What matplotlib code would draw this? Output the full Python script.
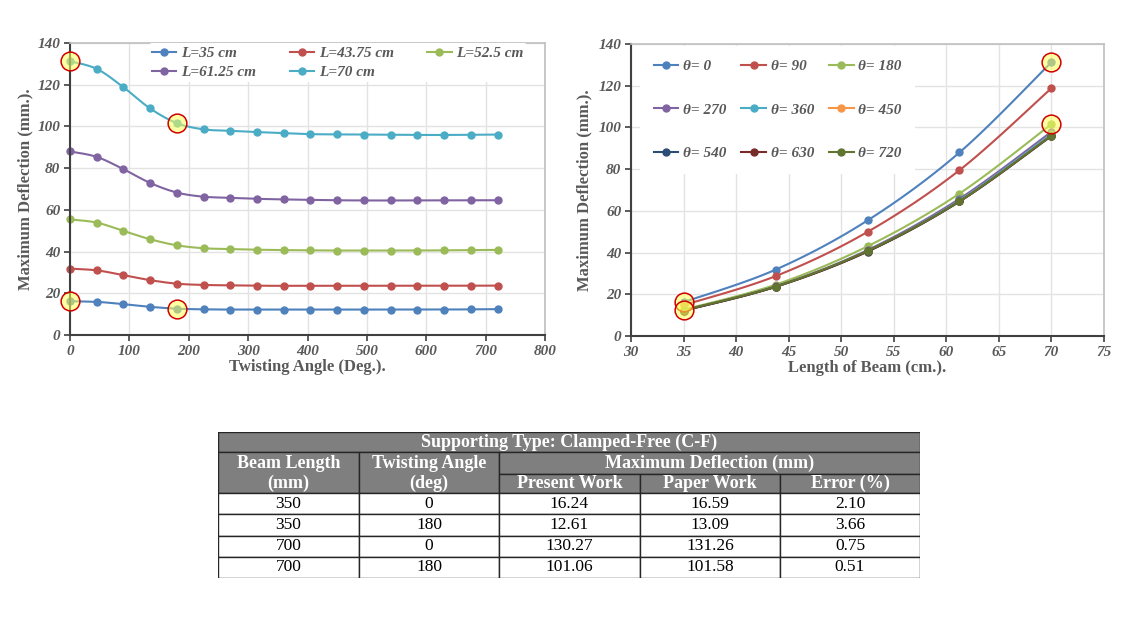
import numpy as np
import matplotlib.pyplot as plt
from matplotlib.patches import Rectangle
from matplotlib.lines import Line2D

# twisting angles (deg) and beam lengths (cm)
angles = [0, 45, 90, 135, 180, 225, 270, 315, 360, 405, 450, 495, 540, 585, 630, 675, 720]
lengths = [35, 43.75, 52.5, 61.25, 70]

# max deflection (mm) vs twisting angle, one list per beam length
defl_35 = [16.24, 15.9, 14.8, 13.5, 12.61, 12.3, 12.2, 12.2, 12.2, 12.2, 12.2, 12.2, 12.2, 12.2, 12.2, 12.3, 12.4]
defl_4375 = [31.8, 31.0, 28.7, 26.3, 24.6, 24.0, 23.8, 23.6, 23.6, 23.6, 23.6, 23.6, 23.6, 23.6, 23.6, 23.6, 23.7]
defl_525 = [55.4, 53.9, 49.9, 45.9, 43.0, 41.6, 41.2, 40.9, 40.7, 40.6, 40.5, 40.5, 40.5, 40.5, 40.6, 40.7, 40.8]
defl_6125 = [88.0, 85.4, 79.5, 72.9, 68.3, 66.3, 65.8, 65.3, 65.0, 64.8, 64.6, 64.5, 64.5, 64.5, 64.5, 64.6, 64.6]
defl_70 = [131.26, 127.6, 118.8, 108.6, 101.58, 98.6, 97.9, 97.3, 96.8, 96.3, 96.2, 96.1, 96.0, 95.9, 95.9, 96.0, 96.1]
series = [defl_35, defl_4375, defl_525, defl_6125, defl_70]
length_labels = ['L=35 cm', 'L=43.75 cm', 'L=52.5 cm', 'L=61.25 cm', 'L=70 cm']

# right chart uses every 90 deg
thetas = [0, 90, 180, 270, 360, 450, 540, 630, 720]

# validation table
tbl_length = ['350', '350', '700', '700']
tbl_angle = ['0', '180', '0', '180']
tbl_present = ['16.24', '12.61', '130.27', '101.06']
tbl_paper = ['16.59', '13.09', '131.26', '101.58']
tbl_error = ['2.10', '3.66', '0.75', '0.51']

excel = ['#4F81BD', '#C0504D', '#9BBB59', '#8064A2', '#4BACC6',
         '#F79646', '#2C4D75', '#772C2A', '#5F7530']
grey = '#595959'
serif = 'Liberation Serif'


def smooth(x, y, n=30):
    # excel style smoothed line (bezier with 1/6 tangents)
    p = np.column_stack([x, y]).astype(float)
    p = np.vstack([p[0], p, p[-1]])
    t = np.linspace(0, 1, n)[:, None]
    out = []
    for i in range(1, len(p) - 2):
        p0, p1, p2, p3 = p[i - 1], p[i], p[i + 1], p[i + 2]
        c1 = p1 + (p2 - p0) / 6
        c2 = p2 - (p3 - p1) / 6
        seg = ((1 - t) ** 3) * p1 + 3 * ((1 - t) ** 2) * t * c1 + 3 * (1 - t) * t ** 2 * c2 + t ** 3 * p2
        out.append(seg)
    out = np.vstack(out)
    return out[:, 0], out[:, 1]


def style_axes(ax):
    ax.grid(True, color='#E3E3E3', linewidth=1)
    ax.set_axisbelow(True)
    for s in ['left', 'bottom']:
        ax.spines[s].set_color('#404040')
        ax.spines[s].set_linewidth(1.5)
    for s in ['top', 'right']:
        ax.spines[s].set_color('#BFBFBF')
        ax.spines[s].set_linewidth(1.2)
    ax.tick_params(direction='out', length=4, width=1.2, color='#404040', pad=3)
    for lab in ax.get_xticklabels() + ax.get_yticklabels():
        lab.set_fontfamily(serif)
        lab.set_fontweight('bold')
        lab.set_fontstyle('italic')
        lab.set_fontsize(11)
        lab.set_color(grey)


def highlight(ax, x, y):
    ax.plot(x, y, 'o', ms=13.5, mfc=(1, 1, 0.35, 0.55), mec='#D00000', mew=1.1,
            zorder=10, clip_on=False)


fig = plt.figure(figsize=(11.38, 6.22), dpi=100)
W, H = 1138, 622

# ---- left chart
ax1 = fig.add_axes([70 / W, 1 - 335 / H, 475 / W, 292 / H])
handles = []
for vals, c, lab in zip(series, excel[:5], length_labels):
    sx, sy = smooth(angles, vals)
    ax1.plot(sx, sy, color=c, lw=1.5)
    ax1.plot(angles, vals, 'o', color=c, ms=5, clip_on=False)
    handles.append(Line2D([], [], color=c, lw=1.5, marker='o', ms=5, label=lab))
highlight(ax1, [angles[0], angles[4]], [defl_35[0], defl_35[4]])
highlight(ax1, [angles[0], angles[4]], [defl_70[0], defl_70[4]])
ax1.set_xlim(0, 800)
ax1.set_ylim(0, 140)
ax1.set_xticks(range(0, 801, 100))
ax1.set_yticks(range(0, 141, 20))
style_axes(ax1)
ax1.set_xlabel('Twisting Angle (Deg.).', family=serif, weight='bold', size=12, color=grey, labelpad=1)
ax1.set_ylabel('Maximum Deflection (mm.).', family=serif, weight='bold', size=12, color=grey, labelpad=3)
order = [0, 3, 1, 4, 2]
leg1 = ax1.legend([handles[i] for i in order], [length_labels[i] for i in order],
                  ncol=3, loc='upper left', bbox_to_anchor=(0.15, 1.025),
                  prop={'family': serif, 'weight': 'bold', 'style': 'italic', 'size': 11},
                  frameon=True, facecolor='white', edgecolor='none', framealpha=1,
                  handlelength=1.6, handletextpad=0.3, columnspacing=2.2,
                  labelspacing=0.35, borderpad=0.2)
for t in leg1.get_texts():
    t.set_color(grey)

# ---- right chart
ax2 = fig.add_axes([631 / W, 1 - 336 / H, 473 / W, 292 / H])
handles2 = []
for k, th in enumerate(thetas):
    idx = angles.index(th)
    vals = [s[idx] for s in series]
    sx, sy = smooth(lengths, vals)
    ax2.plot(sx, sy, color=excel[k], lw=1.5)
    ax2.plot(lengths, vals, 'o', color=excel[k], ms=5)
    handles2.append(Line2D([], [], color=excel[k], lw=1.5, marker='o', ms=5, label='θ= %d' % th))
highlight(ax2, [lengths[0], lengths[0]], [defl_35[0], defl_35[4]])
highlight(ax2, [lengths[-1], lengths[-1]], [defl_70[0], defl_70[4]])
ax2.set_xlim(30, 75)
ax2.set_ylim(0, 140)
ax2.set_xticks(range(30, 76, 5))
ax2.set_yticks(range(0, 141, 20))
style_axes(ax2)
ax2.set_xlabel('Length of Beam (cm.).', family=serif, weight='bold', size=12, color=grey, labelpad=1)
ax2.set_ylabel('Maximum Deflection (mm.).', family=serif, weight='bold', size=12, color=grey, labelpad=4)
order2 = [0, 3, 6, 1, 4, 7, 2, 5, 8]
leg2 = ax2.legend([handles2[i] for i in order2], [handles2[i].get_label() for i in order2],
                  ncol=3, loc='upper left', bbox_to_anchor=(0.003, 1.02),
                  prop={'family': serif, 'weight': 'bold', 'style': 'italic', 'size': 11},
                  frameon=True, facecolor='white', edgecolor='none', framealpha=1,
                  handlelength=1.6, handletextpad=0.3, columnspacing=1.0,
                  labelspacing=1.95, borderpad=0.9)
for t in leg2.get_texts():
    t.set_color(grey)

# ---- table
axt = fig.add_axes([218 / W, 1 - 578 / H, 702 / W, 146.3 / H])
axt.set_xlim(218, 920)
axt.set_ylim(578, 431.7)
axt.axis('off')
cols = [218, 359, 499, 640, 780, 920]
rows = [431.7, 452.3, 474, 493.3]
body = [493.3 + 21.17 * k for k in range(5)]
hdr = '#7F7F7F'
lc = '#262626'
hfont = dict(family=serif, size=13, weight='bold', color='white', ha='center', va='center')
bfont = dict(family=serif, size=12.5, color='black', ha='center', va='center')


def cell(x0, x1, y0, y1, fc):
    axt.add_patch(Rectangle((x0, y0), x1 - x0, y1 - y0, facecolor=fc, edgecolor=lc, lw=1))


cell(cols[0], cols[5], rows[0], rows[1], hdr)
axt.text((cols[0] + cols[5]) / 2, (rows[0] + rows[1]) / 2, 'Supporting Type: Clamped-Free (C-F)', **hfont)
for j, (a, b) in enumerate([('Beam Length', '(mm)'), ('Twisting Angle', '(deg)')]):
    cell(cols[j], cols[j + 1], rows[1], rows[3], hdr)
    axt.text((cols[j] + cols[j + 1]) / 2, (rows[1] + rows[2]) / 2, a, **hfont)
    axt.text((cols[j] + cols[j + 1]) / 2, (rows[2] + rows[3]) / 2, b, **hfont)
cell(cols[2], cols[5], rows[1], rows[2], hdr)
axt.text((cols[2] + cols[5]) / 2, (rows[1] + rows[2]) / 2, 'Maximum Deflection (mm)', **hfont)
for j, name in enumerate(['Present Work', 'Paper Work', 'Error (%)']):
    cell(cols[2 + j], cols[3 + j], rows[2], rows[3], hdr)
    axt.text((cols[2 + j] + cols[3 + j]) / 2, (rows[2] + rows[3]) / 2, name, **hfont)

table_cols = [tbl_length, tbl_angle, tbl_present, tbl_paper, tbl_error]
for i in range(4):
    for j, colvals in enumerate(table_cols):
        cell(cols[j], cols[j + 1], body[i], body[i + 1], 'white')
        axt.text((cols[j] + cols[j + 1]) / 2, (body[i] + body[i + 1]) / 2, colvals[i], **bfont)

fig.savefig('out.png', dpi=100, facecolor='white')
